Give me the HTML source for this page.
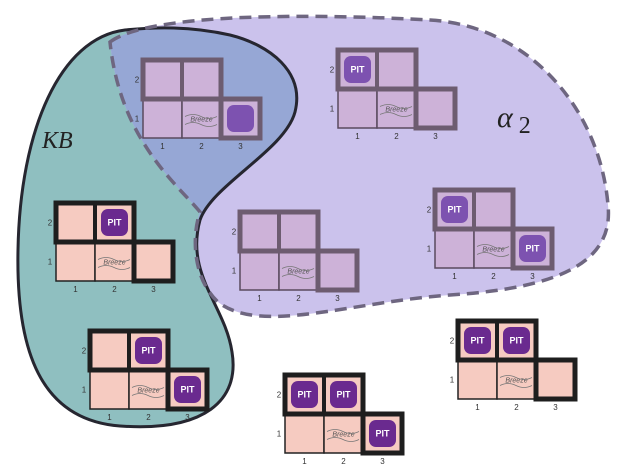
<!DOCTYPE html>
<html><head><meta charset="utf-8"><style>
html,body{margin:0;padding:0;background:#fff;}
svg{display:block;font-family:"Liberation Sans",sans-serif;}
</style></head><body>
<svg id="s" width="636" height="473" viewBox="0 0 636 473">
<defs>
<clipPath id="pc"><path d="M110,42 C150,12 320,14 430,20 C530,26 600,110 608,205 C614,262 560,288 450,295 C350,302 260,335 218,302 C192,278 192,235 200,212 C178,185 120,140 110,42 Z"/></clipPath>
</defs>
<path d="M125,30 C60,38 20,130 18,250 C16,350 40,420 120,426 C205,432 240,400 232,352 C225,305 185,275 200,220 C212,185 285,150 295,112 C305,72 270,45 230,35 C190,26 155,27 125,30 Z" fill="#8fbfc0"/>
<path d="M110,42 C150,12 320,14 430,20 C530,26 600,110 608,205 C614,262 560,288 450,295 C350,302 260,335 218,302 C192,278 192,235 200,212 C178,185 120,140 110,42 Z" fill="#cbc2ec"/>
<path clip-path="url(#pc)" d="M125,30 C60,38 20,130 18,250 C16,350 40,420 120,426 C205,432 240,400 232,352 C225,305 185,275 200,220 C212,185 285,150 295,112 C305,72 270,45 230,35 C190,26 155,27 125,30 Z" fill="#96a7d5"/>
<path d="M125,30 C60,38 20,130 18,250 C16,350 40,420 120,426 C205,432 240,400 232,352 C225,305 185,275 200,220 C212,185 285,150 295,112 C305,72 270,45 230,35 C190,26 155,27 125,30 Z" fill="none" stroke="#262630" stroke-width="3"/>
<path d="M110,42 C150,12 320,14 430,20 C530,26 600,110 608,205 C614,262 560,288 450,295 C350,302 260,335 218,302 C192,278 192,235 200,212 C178,185 120,140 110,42 Z" fill="none" stroke="#6e6680" stroke-width="3.5" stroke-dasharray="12,7"/>
<text x="42" y="148" font-family="Liberation Serif,serif" font-style="italic" font-size="24" fill="#222">KB</text>
<text x="497" y="127" font-family="Liberation Serif,serif" font-style="italic" font-size="30" fill="#222">α<tspan font-size="24" dy="6" font-style="normal"> 2</tspan></text>
<g id="grids"></g>
</svg>
<script>
var grids=[
 {x:143,y:60,p:1,pits:[[3,1]],name:'grid-overlap'},
 {x:338,y:50,p:1,pits:[[1,2]],name:'grid-alpha2-top'},
 {x:56,y:203,p:0,pits:[[2,2]],name:'grid-kb-mid'},
 {x:240,y:212,p:1,pits:[],name:'grid-alpha2-left'},
 {x:435,y:190,p:1,pits:[[1,2],[3,1]],name:'grid-alpha2-right'},
 {x:90,y:331,p:0,pits:[[2,2],[3,1]],name:'grid-kb-bottom'},
 {x:285,y:375,p:0,pits:[[1,2],[2,2],[3,1]],name:'grid-bottom-middle'},
 {x:458,y:321,p:0,pits:[[1,2],[2,2]],name:'grid-bottom-right'}
];
var NS='http://www.w3.org/2000/svg',C=39,root=document.getElementById('grids');
function mk(t,a,par){var e=document.createElementNS(NS,t);for(var k in a)e.setAttribute(k,a[k]);par.appendChild(e);return e;}
grids.forEach(function(g){
 var G=mk('g',{},root);
 
 
 var fill=g.p?'#cdb2d8':'#f6cbc1', thick=g.p?'#6d5c70':'#1e1e1e', thin=g.p?'#5a4a5e':'#222', pit=g.p?'#7d52b0':'#6a2a8f';
 function cx(c){return g.x+(c-1)*C;} function cy(r){return g.y+(2-r)*C;}
 [[1,2],[2,2],[1,1],[2,1],[3,1]].forEach(function(p){
  var r=mk('rect',{x:cx(p[0]),y:cy(p[1]),width:C,height:C,fill:fill,stroke:thin,'stroke-width':1.5},G);
  
  
 });
 mk('rect',{x:cx(1),y:cy(2),width:2*C,height:C,fill:'none',stroke:thick,'stroke-width':5},G);
 mk('line',{x1:cx(2),y1:cy(2),x2:cx(2),y2:cy(1),stroke:thick,'stroke-width':4},G);
 mk('rect',{x:cx(3),y:cy(1),width:C,height:C,fill:'none',stroke:thick,'stroke-width':5},G);
 var bz=mk('text',{x:cx(2)+C/2,y:cy(1)+C/2+3,'text-anchor':'middle','font-size':7,fill:'#555','font-style':'italic'},G);
 bz.textContent='Breeze';
 
 
 mk('path',{d:'M'+(cx(2)+3)+','+(cy(1)+C/2-2)+' q8,-4 16,0 t16,0 M'+(cx(2)+3)+','+(cy(1)+C/2+6)+' q8,-4 16,0 t16,0',fill:'none',stroke:'#777','stroke-width':0.8},G);
 g.pits.forEach(function(p){
  var r=mk('rect',{x:cx(p[0])+6,y:cy(p[1])+6,width:C-12,height:C-12,rx:7,fill:pit},G);
  
  
  if(!(g.name=='grid-overlap')){var t=mk('text',{x:cx(p[0])+C/2,y:cy(p[1])+C/2+3,'text-anchor':'middle','font-size':9,'font-weight':'bold',fill:'#fff'},G);t.textContent='PIT';}
 });
 [2,1].forEach(function(r){var t=mk('text',{x:g.x-6,y:cy(r)+C/2+3,'text-anchor':'middle','font-size':8,fill:'#333'},G);t.textContent=r;});
 [1,2,3].forEach(function(c){var t=mk('text',{x:cx(c)+C/2,y:g.y+2*C+11,'text-anchor':'middle','font-size':8,fill:'#333'},G);t.textContent=c;});
});
</script>
</body></html>
